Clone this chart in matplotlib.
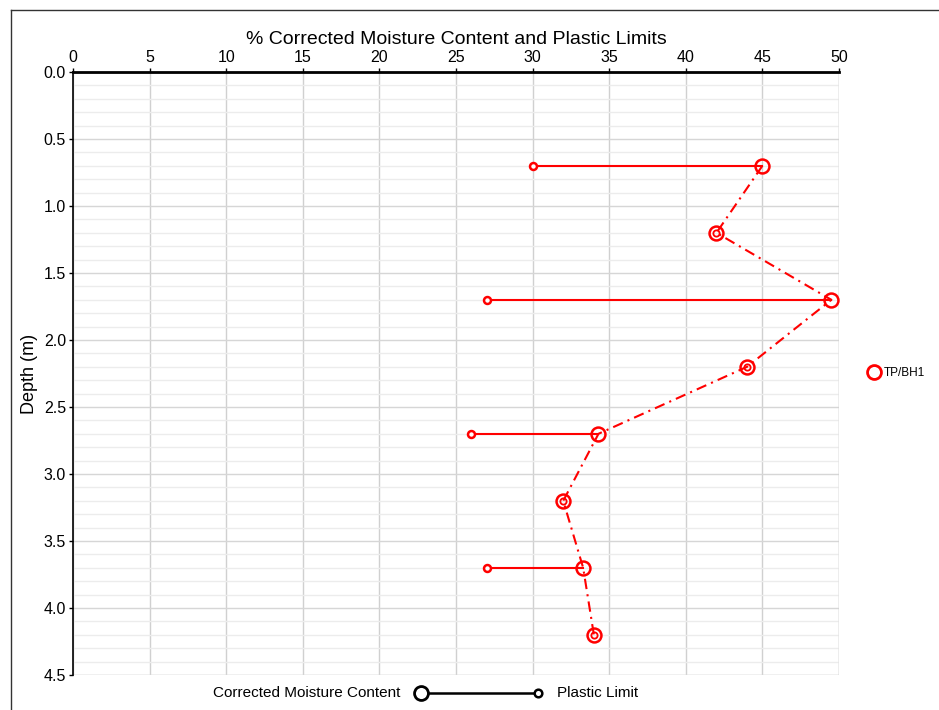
import numpy as np
import matplotlib.pyplot as plt
from matplotlib.lines import Line2D

plt.rcParams['font.family'] = ['Liberation Sans', 'DejaVu Sans']

# Sample depths (m) and results (%)
depth = [0.7, 1.2, 1.7, 2.2, 2.7, 3.2, 3.7, 4.2]
moisture = [45.0, 42.0, 49.5, 44.0, 34.3, 32.0, 33.3, 34.0]
plastic_limit = [30.0, np.nan, 27.0, np.nan, 26.0, np.nan, 27.0, np.nan]
hole = 'TP/BH1'

red = '#ff0000'

fig = plt.figure(figsize=(9.39, 7.10), dpi=100)
ax = fig.add_axes([73 / 939, 1 - 675 / 710, 766 / 939, 603 / 710])

# Frame around the sheet
fig.add_artist(Line2D([11 / 939, 1], [1 - 10 / 710, 1 - 10 / 710], color='#333333', lw=1.0))
fig.add_artist(Line2D([11 / 939, 11 / 939], [0, 1 - 10 / 710], color='#333333', lw=1.0))

ax.set_xlim(0, 50)
ax.set_ylim(4.5, 0)
ax.set_xticks(np.arange(0, 51, 5))
ax.set_yticks(np.arange(0, 4.51, 0.5))
ax.set_yticks(np.arange(0, 4.51, 0.1), minor=True)
ax.set_yticklabels([f'{v:.1f}' for v in np.arange(0, 4.51, 0.5)])

ax.xaxis.tick_top()
ax.xaxis.set_label_position('top')
ax.set_xlabel('% Corrected Moisture Content and Plastic Limits', fontsize=14, labelpad=4)
ax.set_ylabel('Depth (m)', fontsize=13, labelpad=4)

ax.tick_params(axis='x', which='major', length=3, width=1, labelsize=11.5, pad=2)
ax.tick_params(axis='y', which='major', length=3, width=1, labelsize=11.5, pad=2)
ax.tick_params(axis='y', which='minor', length=0)

for s in ['right', 'bottom']:
    ax.spines[s].set_visible(False)
ax.spines['top'].set_linewidth(2)
ax.spines['left'].set_linewidth(1.2)

ax.grid(axis='x', which='major', color='#d0d0d0', lw=1)
ax.grid(axis='y', which='minor', color='#ececec', lw=1)
ax.grid(axis='y', which='major', color='#d6d6d6', lw=1)
ax.axhline(4.5, color='#dcdcdc', lw=1)
ax.axvline(50, color='#d0d0d0', lw=1)
ax.set_axisbelow(True)

# Plastic limit to moisture content links
for d, m, p in zip(depth, moisture, plastic_limit):
    if np.isnan(p):
        ax.plot([m], [d], 'o', ms=4.5, mfc='none', mec=red, mew=1.3, zorder=4)
    else:
        ax.plot([p, m], [d, d], '-', color=red, lw=1.5, zorder=3)
        ax.plot([p], [d], 'o', ms=5, mfc='white', mec=red, mew=1.8, zorder=4)

ax.plot(moisture, depth, color=red, lw=1.5, ls=(0, (5, 2.5, 1, 2.5)), zorder=3)
ax.plot(moisture, depth, 'o', ms=10, mfc='none', mec=red, mew=1.8, zorder=5)

leg = ax.legend([Line2D([], [], marker='o', ls='none', ms=10, mfc='none', mec=red, mew=2)],
                [hole], loc='center left', bbox_to_anchor=(1.02, 0.5), frameon=False,
                fontsize=8.5, handletextpad=0.1, handlelength=1.5)

# Key at the bottom
ky = 1 - 693 / 710
fig.text(400 / 939, ky, 'Corrected Moisture Content', ha='right', va='center', fontsize=11)
fig.add_artist(Line2D([421 / 939, 538 / 939], [ky, ky], color='black', lw=1.8))
fig.add_artist(Line2D([421 / 939], [ky], marker='o', ms=10, mfc='white', mec='black', mew=2))
fig.add_artist(Line2D([538 / 939], [ky], marker='o', ms=5.5, mfc='white', mec='black', mew=1.8))
fig.text(557 / 939, ky, 'Plastic Limit', ha='left', va='center', fontsize=11)

fig.savefig('out.png', dpi=100)
